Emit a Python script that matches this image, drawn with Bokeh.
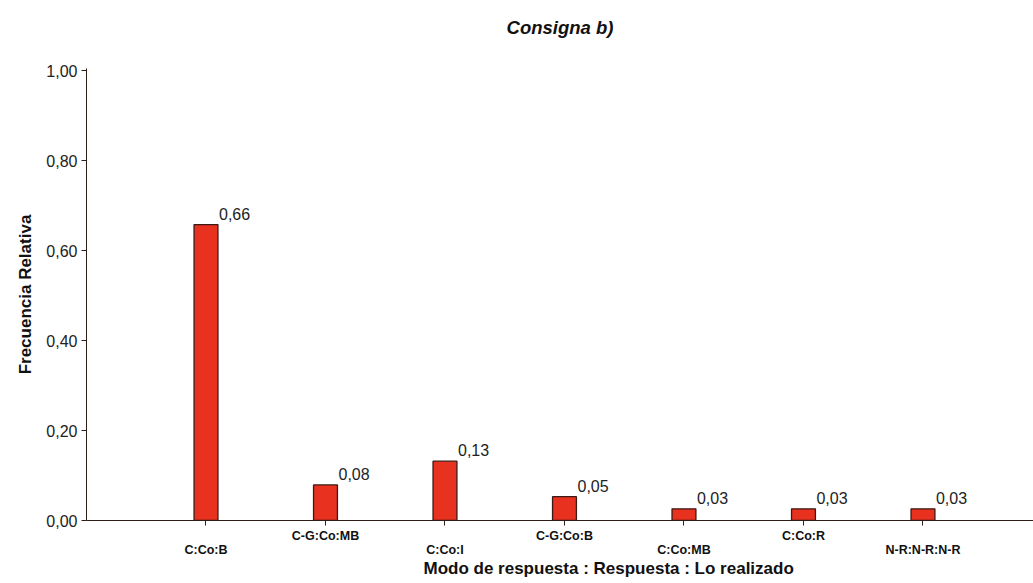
from bokeh.plotting import figure
from bokeh.models import Range1d, FixedTicker, CustomJSTickFormatter, Title, ColumnDataSource
from bokeh.core.properties import value
from bokeh.embed import file_html
from bokeh.resources import INLINE

categories = ["C:Co:B", "C-G:Co:MB", "C:Co:I", "C-G:Co:B", "C:Co:MB", "C:Co:R", "N-R:N-R:N-R"]
values = [0.658, 0.079, 0.132, 0.053, 0.026, 0.026, 0.026]
value_labels = ["0,66", "0,08", "0,13", "0,05", "0,03", "0,03", "0,03"]
y_ticks = [0.0, 0.2, 0.4, 0.6, 0.8, 1.0]

positions = list(range(1, len(categories) + 1))
FONT = "Liberation Sans"
AXIS = "#2e1c18"

src = ColumnDataSource(dict(x=positions, top=values, lab=value_labels))

p = figure(width=1033, height=583, x_range=Range1d(0, 7.925), y_range=Range1d(0, 1.005),
           output_backend="svg", toolbar_location=None, title=None,
           min_border_left=86, min_border_right=0, min_border_top=68, min_border_bottom=63)
p.outline_line_color = None
p.grid.grid_line_color = None
p.background_fill_color = "white"

# spacer panel between the frame and the title
spacer = Title(text=" ", text_font_size="10px", standoff=16)
p.add_layout(spacer, "above")
main_title = Title(text="Consigna b)", align="center", vertical_align="top", standoff=0,
                   text_font=FONT, text_font_size="18.5px", text_font_style="bold italic",
                   text_color="#111111")
p.add_layout(main_title, "above")

p.vbar(x="x", top="top", width=0.2, source=src, fill_color="#e8311f",
       line_color="#3b1a14", line_width=1.3)
p.text(x="x", y="top", text="lab", source=src, x_offset=13, y_offset=-5,
       text_align="left", text_baseline="bottom", text_font=value(FONT),
       text_font_size="16px", text_color="#222222")

# y axis
ya = p.yaxis[0]
ya.ticker = FixedTicker(ticks=y_ticks)
ya.formatter = CustomJSTickFormatter(code="return tick.toFixed(2).replace('.', ',');")
ya.major_label_text_font = FONT
ya.major_label_text_font_size = "16px"
ya.major_label_text_color = "#222222"
ya.major_tick_out = 5
ya.major_tick_in = 0
ya.minor_tick_line_color = None
ya.axis_line_color = AXIS
ya.major_tick_line_color = AXIS
ya.major_label_standoff = 4

# x axis with staggered labels
xa = p.xaxis[0]
xa.ticker = FixedTicker(ticks=positions)
overrides = {}
for i, (pos, cat) in enumerate(zip(positions, categories)):
    overrides[pos] = ("\n" + cat) if i % 2 == 0 else cat
xa.major_label_overrides = overrides
xa.major_label_text_font = FONT
xa.major_label_text_font_size = "12.5px"
xa.major_label_text_font_style = "bold"
xa.major_label_text_color = "#111111"
xa.major_label_text_line_height = 1.05
xa.major_tick_out = 5
xa.major_tick_in = 0
xa.minor_tick_line_color = None
xa.axis_line_color = AXIS
xa.major_tick_line_color = AXIS
xa.major_label_standoff = 3

xt = Title(text="Modo de respuesta : Respuesta : Lo realizado", align="left", offset=337,
           text_font=FONT, text_font_size="17px", text_font_style="bold",
           text_color="#111111", standoff=-8)
p.add_layout(xt, "below")

yt = Title(text="Frecuencia Relativa", align="center", offset=0,
           text_font=FONT, text_font_size="17px", text_font_style="bold",
           text_color="#111111", standoff=17)
p.add_layout(yt, "left")

open("out.html", "w").write(file_html(p, INLINE))
